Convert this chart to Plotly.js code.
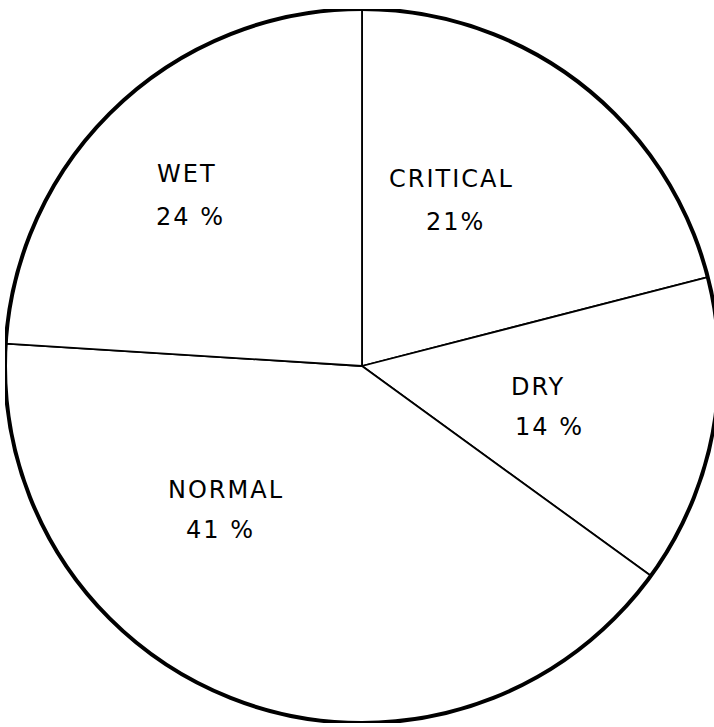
<!DOCTYPE html>
<html>
<head>
<meta charset="utf-8">
<script src="https://cdn.plot.ly/plotly-3.0.1.min.js"></script>
<style>
  html, body { margin: 0; padding: 0; width: 714px; height: 727px; overflow: hidden; background: #fff; }
  #chart { position: absolute; left: 5px; top: 9px; width: 714px; height: 714px; }
  #chart text.annotation-text { letter-spacing: 2px; }
</style>
</head>
<body>
<div id="chart"></div>
<script>
const categories = ["CRITICAL", "DRY", "NORMAL", "WET"];
const percents = [21, 14, 41, 24];
const percentSep = ["", " ", " ", " "];   // spacing as lettered on the original
const percentLabels = percents.map((p, i) => p + percentSep[i] + "%");

// label placement (page pixels): [name x, name y, percent x, percent y] -- style only
const labelPos = [
  [395, 179, 427, 222],
  [512, 387, 517, 427],
  [172, 490, 188, 530],
  [158, 174, 158, 217]
];

const OFFX = 5, OFFY = 9, SIZE = 714;
const toPx = x => (x - OFFX) / SIZE;
const toPy = y => 1 - (y - OFFY) / SIZE;

const slices = {
  type: "pie",
  values: percents,
  labels: categories,
  textinfo: "none",
  sort: false,
  direction: "clockwise",
  rotation: 0,
  hoverinfo: "none",
  showlegend: false,
  marker: { colors: ["#ffffff", "#ffffff", "#ffffff", "#ffffff"], line: { color: "#000000", width: 1.8 } },
  domain: { x: [0, 1], y: [0, 1] }
};

const outline = {
  type: "pie",
  values: [1],
  labels: ["outline"],
  textinfo: "none",
  sort: false,
  hoverinfo: "none",
  showlegend: false,
  marker: { colors: ["rgba(0,0,0,0)"], line: { color: "#000000", width: 4 } },
  domain: { x: [0, 1], y: [0, 1] }
};

const font = { family: "DejaVu Sans", size: 24, color: "#000000" };
const annotations = [];
categories.forEach((c, i) => {
  const p = labelPos[i];
  annotations.push({ text: c, xref: "paper", yref: "paper", x: toPx(p[0]), y: toPy(p[1]),
    xanchor: "left", yanchor: "middle", showarrow: false, font: font });
  annotations.push({ text: percentLabels[i], xref: "paper", yref: "paper", x: toPx(p[2]), y: toPy(p[3]),
    xanchor: "left", yanchor: "middle", showarrow: false, font: font });
});

Plotly.newPlot("chart", [slices, outline], {
  width: 714, height: 714,
  margin: { l: 0, r: 0, t: 0, b: 0 },
  paper_bgcolor: "rgba(0,0,0,0)",
  plot_bgcolor: "rgba(0,0,0,0)",
  showlegend: false,
  annotations: annotations
}, { staticPlot: true });
</script>
</body>
</html>
